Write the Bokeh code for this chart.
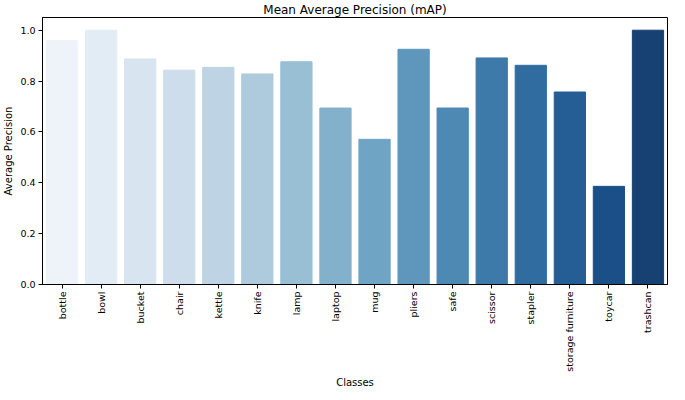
import colorsys
import math
from bokeh.plotting import figure
from bokeh.models import ColumnDataSource, FactorRange, FixedTicker, NumeralTickFormatter
from bokeh.embed import file_html
from bokeh.resources import INLINE

classes = ["bottle", "bowl", "bucket", "chair", "kettle", "knife", "lamp", "laptop",
           "mug", "pliers", "safe", "scissor", "stapler", "storage furniture", "toycar", "trashcan"]
ap_values = [0.959, 1.0, 0.887, 0.843, 0.854, 0.828, 0.876, 0.694,
             0.571, 0.925, 0.694, 0.891, 0.862, 0.757, 0.386, 1.0]
y_ticks = [0.0, 0.2, 0.4, 0.6, 0.8, 1.0]

# seaborn-like "Blues" palette (ColorBrewer Blues9 anchors), desaturated to 0.75
anchors = ["#f7fbff", "#deebf7", "#c6dbef", "#9ecae1", "#6baed6",
           "#4292c6", "#2171b5", "#08519c", "#08306b"]

def hex2rgb(h):
    return [int(h[i:i + 2], 16) / 255 for i in (1, 3, 5)]

def blues(t):
    pos = t * (len(anchors) - 1)
    i = min(int(pos), len(anchors) - 2)
    f = pos - i
    a, b = hex2rgb(anchors[i]), hex2rgb(anchors[i + 1])
    r, g, bl = [a[k] + (b[k] - a[k]) * f for k in range(3)]
    h, l, s = colorsys.rgb_to_hls(r, g, bl)
    r, g, bl = colorsys.hls_to_rgb(h, l, s * 0.75)
    return "#%02x%02x%02x" % (round(r * 255), round(g * 255), round(bl * 255))

n = len(classes)
colors = [blues((i + 1) / (n + 1)) for i in range(n)]

source = ColumnDataSource(data=dict(cls=classes, ap=ap_values, color=colors))

p = figure(x_range=FactorRange(*classes, range_padding=0), y_range=(0, 1.05),
           width=669, height=390, output_backend="svg", toolbar_location=None,
           title="Mean Average Precision (mAP)")
p.vbar(x="cls", top="ap", width=0.8, source=source, fill_color="color", line_color="color")

p.title.align = "center"
p.title.text_font = "DejaVu Sans"
p.title.text_font_size = "12px"
p.title.text_font_style = "normal"
p.title.text_color = "#000000"
p.title.standoff = 1
p.title.offset = 0

p.xgrid.visible = False
p.ygrid.visible = False
p.outline_line_color = "#000000"
p.outline_line_width = 1

p.xaxis.axis_label = "Classes"
p.yaxis.axis_label = "Average Precision"
for ax in (p.xaxis[0], p.yaxis[0]):
    ax.axis_label_text_font = "DejaVu Sans"
    ax.axis_label_text_font_size = "10px"
    ax.axis_label_text_font_style = "normal"
    ax.axis_label_text_color = "#000000"
    ax.major_label_text_font = "DejaVu Sans"
    ax.major_label_text_font_size = "9.5px"
    ax.major_label_text_color = "#000000"
    ax.major_tick_in = 0
    ax.major_tick_out = 4
    ax.minor_tick_in = 0
    ax.minor_tick_out = 0
    ax.axis_line_color = "#000000"
    ax.major_tick_line_color = "#000000"
    ax.major_label_standoff = 3

p.yaxis.ticker = FixedTicker(ticks=y_ticks)
p.yaxis.formatter = NumeralTickFormatter(format="0.0")
p.xaxis.major_label_orientation = math.pi / 2
p.xaxis.axis_label_standoff = 2
p.yaxis.axis_label_standoff = 3

p.min_border_left = 0
p.min_border_right = 2
p.min_border_top = 0
p.min_border_bottom = 0

open("out.html", "w").write(file_html(p, INLINE))
